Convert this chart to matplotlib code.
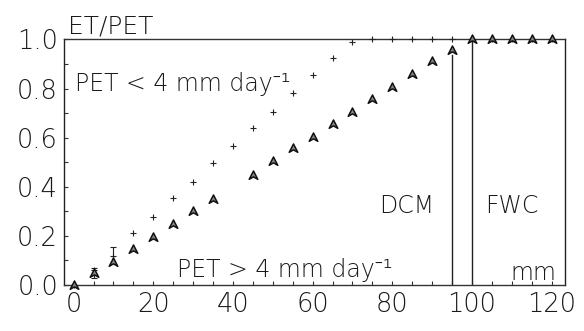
import matplotlib
matplotlib.use("Agg")
import matplotlib.pyplot as plt
from matplotlib.path import Path
import numpy as np

# Data
tri_x = [0, 5, 10, 15, 20, 25, 30, 35, 45, 50, 55, 60, 65, 70, 75, 80, 85, 90, 95,
         100, 105, 110, 115, 120]
tri_y = [0.0, 0.05, 0.095, 0.147, 0.196, 0.249, 0.30, 0.35, 0.448, 0.505, 0.558,
         0.603, 0.656, 0.705, 0.757, 0.806, 0.86, 0.91, 0.958,
         1.0, 1.0, 1.0, 1.0, 1.0]
cross_x = [0, 5, 10, 15, 20, 25, 30, 35, 40, 45, 50, 55, 60, 65, 70, 75, 80, 85, 90, 95,
           100, 105, 110, 115, 120]
cross_y = [0.0, 0.06, 0.12, 0.21, 0.277, 0.354, 0.42, 0.497, 0.567, 0.64, 0.705, 0.78,
           0.855, 0.923, 0.99, 1.0, 1.0, 1.0, 1.0, 1.0, 1.0, 1.0, 1.0, 1.0, 1.0]
err_x = [5, 10]
err_y = [0.05, 0.12]
err_lo = [0.02, 0.03]
err_hi = [0.02, 0.035]
dcm_x, dcm_top = 95, 0.958
fwc_x, fwc_top = 100, 1.0
xticks = [0, 20, 40, 60, 80, 100, 120]
yticks = [0.0, 0.2, 0.4, 0.6, 0.8, 1.0]
ytick_labels = ["0.0", "0.2", "0.4", "0.6", "0.8", "1.0"]

plt.rcParams['font.family'] = ['DejaVu Sans', 'Noto Sans', 'Open Sans']
FW = 'light'
TC = '#1a1a1a'

fig = plt.figure(figsize=(5.84, 3.31), dpi=100)
ax = fig.add_axes([0.109, 0.139, 0.858, 0.742])

arrow = Path([(0, 1.0), (0.95, -0.85), (0, -0.3), (-0.95, -0.85), (0, 1.0)],
             [Path.MOVETO, Path.LINETO, Path.LINETO, Path.LINETO, Path.CLOSEPOLY])

ax.plot(cross_x, cross_y, ls='none', marker='+', ms=5, mew=0.8, color='#222222', clip_on=False, zorder=3)
ax.errorbar(err_x, err_y, yerr=[err_lo, err_hi], fmt='none', ecolor='#222222',
            elinewidth=0.8, capsize=2.5, capthick=0.8, clip_on=False, zorder=3)
ax.plot(tri_x, tri_y, ls='none', marker=arrow, ms=6.5, mfc='#888888', mec='#111111', mew=1.1,
        clip_on=False, zorder=4)

ax.plot([dcm_x, dcm_x], [0, dcm_top - 0.02], color='#222222', lw=1.0)
ax.plot([fwc_x, fwc_x], [0, fwc_top], color='#222222', lw=1.0)

ax.set_xlim(-2.5, 123.3)
ax.set_ylim(0, 1.0)
ax.set_xticks(xticks)
ax.set_xticks(np.arange(0, 121, 5), minor=True)
ax.set_yticks(yticks)
ax.set_yticklabels(ytick_labels)
ax.set_yticks(np.arange(0, 1.01, 0.1), minor=True)
ax.tick_params(which='both', direction='in', length=3, width=0.8, color='#333333')
ax.tick_params(axis='both', labelsize=18.5, pad=4, labelcolor=TC)
ax.tick_params(axis='x', pad=5)
for lab in ax.get_xticklabels() + ax.get_yticklabels():
    lab.set_fontweight(FW)

for s in ['left', 'right']:
    ax.spines[s].set_linewidth(1.0)
    ax.spines[s].set_color('#222222')
for s in ['top', 'bottom']:
    ax.spines[s].set_linewidth(1.0)
    ax.spines[s].set_color('#333333')
    ax.spines[s].set_linestyle((0, (2, 1)))

fs = 17
kw = dict(fontsize=fs, fontweight=FW, color=TC)
ax.text(-1.5, 1.025, "ET/PET", ha='left', va='baseline', clip_on=False,
        fontsize=18, fontweight=FW, color=TC)
ax.text(0.3, 0.79, "PET < 4 mm day\u207b\u00b9", ha='left', va='baseline', **kw)
ax.text(26.0, 0.033, "PET > 4 mm day\u207b\u00b9", ha='left', va='baseline', **kw)
ax.text(90.6, 0.293, "DCM", ha='right', va='baseline', **kw)
ax.text(103.2, 0.293, "FWC", ha='left', va='baseline', **kw)
ax.text(121.3, 0.02, "mm", ha='right', va='baseline', **kw)

fig.savefig("out.png", dpi=100)
